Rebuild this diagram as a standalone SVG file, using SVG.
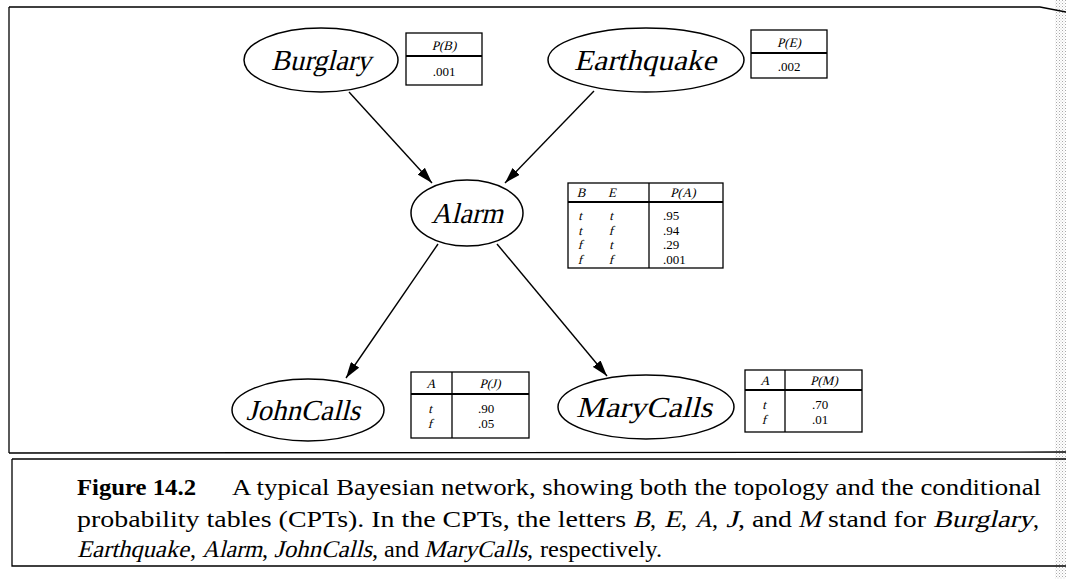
<svg xmlns="http://www.w3.org/2000/svg" width="1066" height="579" viewBox="0 0 1066 579">
<style>
.node{fill:#fff;stroke:#000;stroke-width:1.5}
.lbl{font-family:"Liberation Serif",serif;font-style:normal;font-size:29px;text-anchor:middle;fill:#000}
.tb{fill:#fff;stroke:#000;stroke-width:1.3}
.sep{stroke:#000;stroke-width:2}
.tl{stroke:#000;stroke-width:1.3}
.tt{font-family:"Liberation Serif",serif;font-style:normal;font-size:13px;fill:#000;text-anchor:middle}
.tv{font-family:"Liberation Serif",serif;font-style:normal;font-size:13px;fill:#000}
.edge{stroke:#000;stroke-width:1.4;fill:none;marker-end:url(#ah)}
.frame{stroke:#000;stroke-width:1.3;fill:none}
.cap{font-family:"Liberation Serif",serif;font-style:normal;font-size:24px;fill:#000}
</style>
<defs>
<marker id="ah" viewBox="0 0 16 10" refX="16" refY="5" markerWidth="16" markerHeight="10" markerUnits="userSpaceOnUse" orient="auto">
<path d="M0,0 L16,5 L0,10 Z" fill="#000"/>
</marker>
<pattern id="stip" width="3" height="3" patternUnits="userSpaceOnUse">
<rect x="0" y="0" width="1" height="1" fill="#aaa"/>
<rect x="1.5" y="1.5" width="1" height="1" fill="#ccc"/>
</pattern>
</defs>
<rect width="1066" height="579" fill="#fff"/>
<rect x="1055" y="0" width="11" height="579" fill="url(#stip)"/>
<g id="frame">
<path class="frame" d="M9,7 L1040,7 L1066,12"/>
<path class="frame" d="M9,7 L9,453"/>
<path class="frame" d="M9,453 L1066,452"/>
<path class="frame" d="M12,459 L1066,459"/>
<path class="frame" d="M12,459 L12,566 L1066,566"/>
</g>
<g id="connectors">
<line class="edge" x1="349" y1="92" x2="432" y2="183"/>
<line class="edge" x1="594" y1="91" x2="505" y2="183"/>
<line class="edge" x1="438" y1="244" x2="346" y2="378"/>
<line class="edge" x1="497" y1="244" x2="607" y2="376"/>
</g>
<g id="burglary">
<ellipse class="node" cx="321" cy="60" rx="77" ry="32"/>
<text class="lbl" transform="translate(321,70) skewX(-14)" x="0" y="0" textLength="100" lengthAdjust="spacingAndGlyphs">Burglary</text>
</g>
<g id="cpt-b">
<rect class="tb" x="406" y="33" width="76" height="52"/>
<line class="sep" x1="406" y1="56" x2="482" y2="56"/>
<text class="tt" transform="translate(444,50) skewX(-14)">P(B)</text>
<text class="tt" x="444" y="76">.001</text>
</g>
<g id="earthquake">
<ellipse class="node" cx="646" cy="60" rx="98" ry="32"/>
<text class="lbl" transform="translate(645,70) skewX(-14)" x="0" y="0" textLength="142" lengthAdjust="spacingAndGlyphs">Earthquake</text>
</g>
<g id="cpt-e">
<rect class="tb" x="751" y="30" width="76" height="48"/>
<line class="sep" x1="751" y1="53" x2="827" y2="53"/>
<text class="tt" transform="translate(789,47) skewX(-14)">P(E)</text>
<text class="tt" x="789" y="71">.002</text>
</g>
<g id="alarm">
<ellipse class="node" cx="467" cy="213" rx="56" ry="33"/>
<text class="lbl" transform="translate(467,223) skewX(-14)" x="0" y="0" textLength="72" lengthAdjust="spacingAndGlyphs">Alarm</text>
</g>
<g id="cpt-a">
<rect class="tb" x="568" y="183" width="155" height="85"/>
<line class="sep" x1="568" y1="202" x2="723" y2="202"/>
<line class="tl" x1="649" y1="183" x2="649" y2="268"/>
<text class="tt" transform="translate(581,197) skewX(-14)">B</text>
<text class="tt" transform="translate(612,197) skewX(-14)">E</text>
<text class="tt" transform="translate(683,197) skewX(-14)">P(A)</text>
<text class="tt" transform="translate(580,220) skewX(-14)">t</text><text class="tt" transform="translate(611,220) skewX(-14)">t</text><text class="tv" x="663" y="220">.95</text>
<text class="tt" transform="translate(580,234.5) skewX(-14)">t</text><text class="tt" transform="translate(611,234.5) skewX(-14)">f</text><text class="tv" x="663" y="234.5">.94</text>
<text class="tt" transform="translate(580,249) skewX(-14)">f</text><text class="tt" transform="translate(611,249) skewX(-14)">t</text><text class="tv" x="663" y="249">.29</text>
<text class="tt" transform="translate(580,263.5) skewX(-14)">f</text><text class="tt" transform="translate(611,263.5) skewX(-14)">f</text><text class="tv" x="663" y="263.5">.001</text>
</g>
<g id="johncalls">
<ellipse class="node" cx="308" cy="410" rx="76" ry="31"/>
<text class="lbl" transform="translate(303,420) skewX(-14)" x="0" y="0" textLength="114" lengthAdjust="spacingAndGlyphs">JohnCalls</text>
</g>
<g id="cpt-j">
<rect class="tb" x="411" y="372" width="118" height="66"/>
<line class="sep" x1="411" y1="394" x2="529" y2="394"/>
<line class="tl" x1="452" y1="372" x2="452" y2="438"/>
<text class="tt" transform="translate(431,388) skewX(-14)">A</text>
<text class="tt" transform="translate(490,388) skewX(-14)">P(J)</text>
<text class="tt" transform="translate(430,413) skewX(-14)">t</text><text class="tv" x="478" y="413">.90</text>
<text class="tt" transform="translate(430,428) skewX(-14)">f</text><text class="tv" x="478" y="428">.05</text>
</g>
<g id="marycalls">
<ellipse class="node" cx="646" cy="407" rx="88" ry="32"/>
<text class="lbl" transform="translate(644,417) skewX(-14)" x="0" y="0" textLength="136" lengthAdjust="spacingAndGlyphs">MaryCalls</text>
</g>
<g id="cpt-m">
<rect class="tb" x="745" y="370" width="117" height="62"/>
<line class="sep" x1="745" y1="390" x2="862" y2="390"/>
<line class="tl" x1="785" y1="370" x2="785" y2="432"/>
<text class="tt" transform="translate(765,385) skewX(-14)">A</text>
<text class="tt" transform="translate(824,385) skewX(-14)">P(M)</text>
<text class="tt" transform="translate(764,409) skewX(-14)">t</text><text class="tv" x="812" y="409">.70</text>
<text class="tt" transform="translate(764,424) skewX(-14)">f</text><text class="tv" x="812" y="424">.01</text>
</g>
<g id="caption">
<text class="cap" x="77" y="495" font-weight="bold" textLength="119" lengthAdjust="spacingAndGlyphs">Figure 14.2</text>
<text class="cap" x="232" y="495" textLength="809" lengthAdjust="spacingAndGlyphs">A typical Bayesian network, showing both the topology and the conditional</text>
<text class="cap" x="77" y="527" textLength="549" lengthAdjust="spacingAndGlyphs">probability tables (CPTs).  In the CPTs, the letters</text>
<text class="cap" transform="translate(633,527) skewX(-14)" textLength="17" lengthAdjust="spacingAndGlyphs">B</text>
<text class="cap" x="650" y="527">,</text>
<text class="cap" transform="translate(664,527) skewX(-14)" textLength="17" lengthAdjust="spacingAndGlyphs">E</text>
<text class="cap" x="681" y="527">,</text>
<text class="cap" transform="translate(695,527) skewX(-14)" textLength="17" lengthAdjust="spacingAndGlyphs">A</text>
<text class="cap" x="712" y="527">,</text>
<text class="cap" transform="translate(726,527) skewX(-14)" textLength="12" lengthAdjust="spacingAndGlyphs">J</text>
<text class="cap" x="738" y="527" textLength="54" lengthAdjust="spacingAndGlyphs">, and</text>
<text class="cap" transform="translate(798,527) skewX(-14)" textLength="23" lengthAdjust="spacingAndGlyphs">M</text>
<text class="cap" x="828" y="527" textLength="98" lengthAdjust="spacingAndGlyphs">stand for</text>
<text class="cap" transform="translate(933,527) skewX(-14)" textLength="100" lengthAdjust="spacingAndGlyphs">Burglary</text>
<text class="cap" x="1033" y="527">,</text>
<text class="cap" transform="translate(77,557) skewX(-14)" textLength="112" lengthAdjust="spacingAndGlyphs">Earthquake</text>
<text class="cap" x="190" y="557">,</text>
<text class="cap" transform="translate(202,557) skewX(-14)" textLength="60" lengthAdjust="spacingAndGlyphs">Alarm</text>
<text class="cap" x="262" y="557">,</text>
<text class="cap" transform="translate(274,557) skewX(-14)" textLength="98" lengthAdjust="spacingAndGlyphs">JohnCalls</text>
<text class="cap" x="372" y="557" textLength="47" lengthAdjust="spacingAndGlyphs">, and</text>
<text class="cap" transform="translate(424,557) skewX(-14)" textLength="103" lengthAdjust="spacingAndGlyphs">MaryCalls</text>
<text class="cap" x="527" y="557">,</text>
<text class="cap" x="540" y="557" textLength="122" lengthAdjust="spacingAndGlyphs">respectively.</text>
</g>
</svg>
